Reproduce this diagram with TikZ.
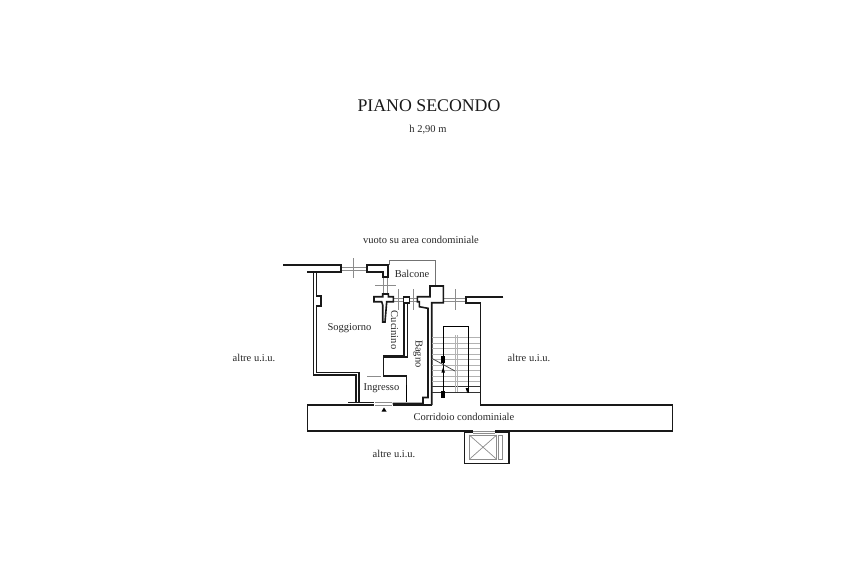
\documentclass[tikz,border=0pt]{standalone}
\usepackage{fontspec}
\setmainfont{Liberation Serif}
\usepackage{xcolor}
\definecolor{linegray}{gray}{0.55}
\begin{document}
\begin{tikzpicture}[
		x=1pt, y=-1pt,
		wall/.style={draw=black!90, line width=1.6pt, line join=miter},
		thinwall/.style={draw=black, line width=0.8pt},
		window/.style={draw=linegray, line width=0.7pt},
		balcony/.style={draw=black!55, line width=1pt},
		tread/.style={draw=black!30, line width=0.8pt},
		label/.style={inner sep=0pt, text=black!85, font=\fontsize{10.5}{12}\selectfont},
		]
		\useasboundingbox (0,0) rectangle (853,560);
		
		% Titolo
		\node[inner sep=0pt, text=black!90, font=\fontsize{17.8}{20}\selectfont] (titolo) at (429,106) {PIANO SECONDO};
		\node[label] (altezza) at (428,130) {h 2,90 m};
		
		% Etichette
		\node[label] (vuoto) at (421,240) {vuoto su area condominiale};
		\node[label] (balcone) at (412,274) {Balcone};
		\node[label] (soggiorno) at (349.5,328) {Soggiorno};
		\node[label, rotate=-90] (cucinino) at (394.5,330) {Cucinino};
		\node[label, rotate=-90] (bagno) at (418,354) {Bagno};
		\node[label] (ingresso) at (381.5,388) {Ingresso};
		\node[label] (corridoio) at (464,417) {Corridoio condominiale};
		\node[label] (altreA) at (254,358) {altre u.i.u.};
		\node[label] (altreB) at (529,358) {altre u.i.u.};
		\node[label] (altreC) at (394,454) {altre u.i.u.};
		
		% Balcone
		\draw[balcony] (389,265) -- (389,260) -- (435,260) -- (435,286);
		
		% Finestre e tacche
		\foreach \xa/\xb/\ya/\yb in {341/367/267/270, 393/404/298/301, 409/417/298/301, 443/466/298/301}
			\draw[window] (\xa,\ya) -- (\xb,\ya) (\xa,\yb) -- (\xb,\yb);
		\draw[window] (383,277) -- (383,294) (387,277) -- (387,294);
		\foreach \xt/\ya/\yb in {353/258/278, 398/289/310, 413/289/310, 455/289/310}
			\draw[window] (\xt,\ya) -- (\xt,\yb);
		\draw[window] (375,285) -- (396,285);
		\draw[window] (367,376.5) -- (381,376.5);
		\draw[window] (375,402.5) -- (392,402.5) (375,405) -- (392,405);
		\draw[window] (473,431) -- (495,431) (473,433) -- (495,433);
		\draw[thinwall] (406,385) -- (406,402);
		
		% Muri
		\draw[wall] (283,265) -- (341,265) -- (341,272) -- (306.7,272);
		\draw[wall] (367,265) -- (388,265) -- (388,277) -- (382.7,277) -- (382.7,272) -- (367,272) -- cycle;
		\draw[wall] (313.5,272) -- (313.5,375) -- (356,375) -- (356,402);
		\draw[wall] (316.5,272) -- (316.5,296) -- (320.7,296) -- (320.7,306) -- (316.5,306) -- (316.5,372.5) -- (359,372.5) -- (359,402);
		\draw[wall] (348,402.5) -- (374,402.5);
		\draw[wall] (382.7,294) -- (388.3,294) -- (388.3,296.7) -- (393.3,296.7) -- (393.3,301.7) -- (386.7,301.7) -- (385,322) -- (382.7,322) -- (382.7,305) -- (381.7,301.7) -- (374,301.7) -- (374,296.7) -- (382.7,296.7) -- cycle;
		\draw[wall] (403.5,296.7) rectangle (409.3,302.7);
		\draw[wall] (404,302.7) -- (404,355.5) -- (383.3,355.5) -- (383.3,375.7) -- (406.5,375.7) -- (406.5,385);
		\draw[wall] (407.3,302.7) -- (407.3,357) -- (384,357);
		\draw[wall] (392.7,403.5) -- (423,403.5) -- (423,397.5) -- (428,397.5) -- (428,308.3) -- (419.3,306.7) -- (419.3,301.7) -- (417.3,301.7) -- (417.3,296.7) -- (430,296.7) -- (430,286) -- (443.3,286) -- (443.3,302.7) -- (431.7,302.7) -- (431.7,405);
		\draw[wall] (503.3,296.7) -- (466,296.7) -- (466,302.7) -- (480.5,302.7) -- (480.5,405) -- (672.3,405) -- (672.3,431) -- (495,431);
		\draw[wall] (374,405) -- (307.3,405) -- (307.3,431) -- (473,431);
		\draw[wall] (392.7,405) -- (431.7,405);
		
		% Scala
		\foreach \ys in {337.5,343,348.5,354,359.5,365,370.5,376,381.5}
			\draw[tread] (432,\ys) -- (480,\ys);
		\draw[thinwall, draw=black!80] (432,386.7) -- (480,386.7) (432,392.7) -- (480,392.7);
		\draw[tread] (455,335) -- (455,391.7) (457.3,335) -- (457.3,391.7);
		\draw[thinwall] (443.3,398) -- (443.3,326.7) -- (468.3,326.7) -- (468.3,393);
		\draw[tread, draw=black!70] (431.7,358.3) -- (455,371);
		\fill[black] (441,356) rectangle (445,363.3);
		\fill[black] (441,391) rectangle (445,397.7);
		\fill[black] (443.2,367) -- (445,372.7) -- (441.4,372.7) -- cycle;
		\fill[black] (467.3,393) -- (465.6,388) -- (469,388) -- cycle;
		
		% Ingresso
		\fill[black] (384,407.5) -- (386.5,411.5) -- (381.5,411.5) -- cycle;
		
		% Ascensore
		\draw[wall] (473,432.5) -- (464.3,432.5) -- (464.3,463.3) -- (509,463.3) -- (509,432.5) -- (495,432.5);
		\draw[window] (469.3,435) rectangle (496.7,459.3);
		\draw[window] (469.3,435) -- (496.7,459.3) (469.3,459.3) -- (496.7,435);
		\draw[window] (498.3,435) rectangle (502.3,459.3);
	\end{tikzpicture}
\end{document}
